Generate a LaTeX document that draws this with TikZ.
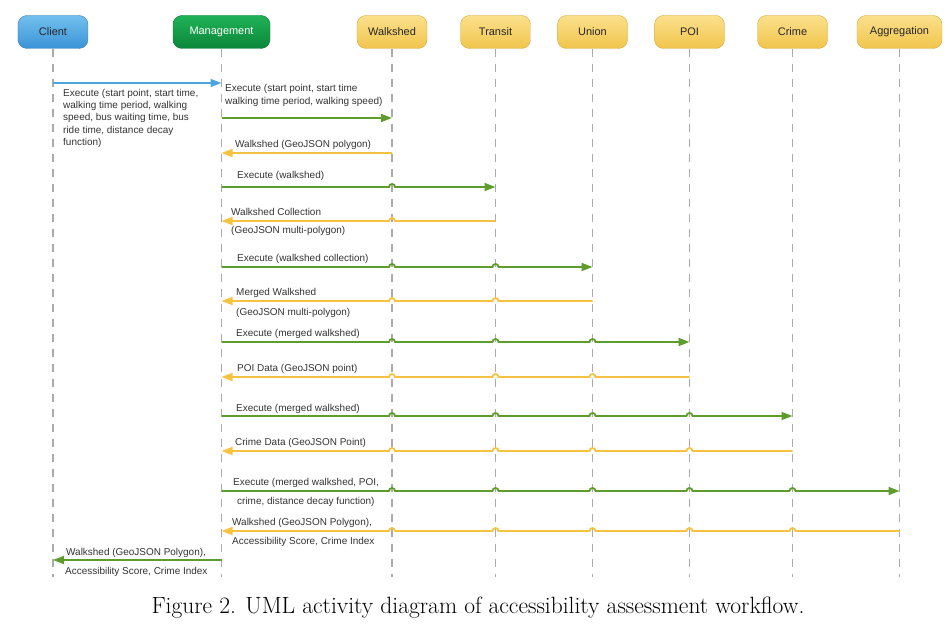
\documentclass[tikz,border=0pt]{standalone}
\usepackage{fontspec}
\newfontfamily\arial{Liberation Sans}
\usetikzlibrary{arrows.meta}
\definecolor{cltop}{HTML}{72C0EE}
\definecolor{clbot}{HTML}{3A93D6}
\definecolor{clline}{HTML}{3B7FB8}
\definecolor{mgtop}{HTML}{20B257}
\definecolor{mgbot}{HTML}{0B863A}
\definecolor{mgline}{HTML}{0C7A35}
\definecolor{svtop}{HTML}{FBE08C}
\definecolor{svbot}{HTML}{F1C54C}
\definecolor{svline}{HTML}{D6A83C}
\definecolor{callgreen}{HTML}{5E9C2C}
\definecolor{backgold}{HTML}{F6C242}
\definecolor{reqblue}{HTML}{4BA6E0}

\begin{document}
\begin{tikzpicture}[x=1bp, y=-1bp, font=\arial\fontsize{10}{12.3}\selectfont,
  >={Triangle[length=11bp,width=8bp]},
  head/.style={draw, rounded corners=9bp, minimum height=33bp, minimum width=70bp,
               inner sep=2pt, font=\arial\fontsize{11}{13}\selectfont, text=black!85},
  clientbox/.style={head, top color=cltop, bottom color=clbot, draw=clline},
  mgrbox/.style={head, top color=mgtop, bottom color=mgbot, draw=mgline,
                 text=white, minimum width=97bp},
  svcbox/.style={head, top color=svtop, bottom color=svbot, draw=svline},
  life/.style={draw=black!33, line width=1.2bp, dash pattern=on 8bp off 7bp},
  req/.style={->, draw=reqblue, line width=1.8bp},
  call/.style={->, draw=callgreen, line width=1.8bp},
  back/.style={<-, draw=backgold, line width=1.8bp},
  lbl/.style={inner sep=0pt, anchor=west, text=black!80},
  blk/.style={lbl, anchor=north west, align=left}]
\useasboundingbox (0,0) rectangle (952,634);
% Lifeline heads.
\node[clientbox] (client) at (53,32) {Client};
\node[mgrbox] (mgmt) at (221.5,32) {Management};
\node[svcbox] (walk) at (392,32) {Walkshed};
\node[svcbox] (transit) at (495.5,32) {Transit};
\node[svcbox] (union) at (592.5,32) {Union};
\node[svcbox] (poi) at (689.5,32) {POI};
\node[svcbox] (crime) at (792.5,32) {Crime};
\node[svcbox, minimum width=85bp] (agg) at (899.5,32) {Aggregation};
\foreach \n in {client,mgmt,walk,transit,union,poi,crime,agg}
  \draw[life] (\n.south) -- (\n.south |- 0,577);
% Messages, with hops over the lifelines they cross.
\draw[req] (client |- 0,83) -- (mgmt |- 0,83);
\draw[call] (mgmt |- 0,118) -- (walk |- 0,118);
\draw[back] (mgmt |- 0,153) -- (walk |- 0,153);
\draw[call] (mgmt |- 0,187) \foreach \n in {walk}
  {-- ([xshift=-3bp]\n |- 0,187) arc[start angle=180, end angle=0, radius=3bp]} -- (transit |- 0,187);
\draw[back] (mgmt |- 0,221) \foreach \n in {walk}
  {-- ([xshift=-3bp]\n |- 0,221) arc[start angle=180, end angle=0, radius=3bp]} -- (transit |- 0,221);
\draw[call] (mgmt |- 0,267) \foreach \n in {walk,transit}
  {-- ([xshift=-3bp]\n |- 0,267) arc[start angle=180, end angle=0, radius=3bp]} -- (union |- 0,267);
\draw[back] (mgmt |- 0,301) \foreach \n in {walk,transit}
  {-- ([xshift=-3bp]\n |- 0,301) arc[start angle=180, end angle=0, radius=3bp]} -- (union |- 0,301);
\draw[call] (mgmt |- 0,342) \foreach \n in {walk,transit,union}
  {-- ([xshift=-3bp]\n |- 0,342) arc[start angle=180, end angle=0, radius=3bp]} -- (poi |- 0,342);
\draw[back] (mgmt |- 0,377) \foreach \n in {walk,transit,union}
  {-- ([xshift=-3bp]\n |- 0,377) arc[start angle=180, end angle=0, radius=3bp]} -- (poi |- 0,377);
\draw[call] (mgmt |- 0,416) \foreach \n in {walk,transit,union,poi}
  {-- ([xshift=-3bp]\n |- 0,416) arc[start angle=180, end angle=0, radius=3bp]} -- (crime |- 0,416);
\draw[back] (mgmt |- 0,451) \foreach \n in {walk,transit,union,poi}
  {-- ([xshift=-3bp]\n |- 0,451) arc[start angle=180, end angle=0, radius=3bp]} -- (crime |- 0,451);
\draw[call] (mgmt |- 0,491) \foreach \n in {walk,transit,union,poi,crime}
  {-- ([xshift=-3bp]\n |- 0,491) arc[start angle=180, end angle=0, radius=3bp]} -- (agg |- 0,491);
\draw[back] (mgmt |- 0,531) \foreach \n in {walk,transit,union,poi,crime}
  {-- ([xshift=-3bp]\n |- 0,531) arc[start angle=180, end angle=0, radius=3bp]} -- (agg |- 0,531);
\draw[call] (mgmt |- 0,560) -- (client |- 0,560);
% Message texts.
\node[blk] (m1) at (63,89) {Execute (start point, start time,\\walking time period, walking\\speed, bus waiting time, bus\\ride time, distance decay\\function)};
\node[blk, font=\arial\fontsize{10}{13}\selectfont] (m2) at (225,84) {Execute (start point, start time\\walking time period, walking speed)};
\node[lbl] (m3) at (235,145) {Walkshed (GeoJSON polygon)};
\node[lbl] (m4) at (237,176) {Execute (walkshed)};
\node[lbl] (m5a) at (231,212) {Walkshed Collection};
\node[lbl] (m5b) at (231,231) {(GeoJSON multi-polygon)};
\node[lbl] (m6) at (237,259) {Execute (walkshed collection)};
\node[lbl] (m7a) at (236,293) {Merged Walkshed};
\node[lbl] (m7b) at (236,313) {(GeoJSON multi-polygon)};
\node[lbl] (m8) at (236,334) {Execute (merged walkshed)};
\node[lbl] (m9) at (237,369) {POI Data (GeoJSON point)};
\node[lbl] (m10) at (236,409) {Execute (merged walkshed)};
\node[lbl] (m11) at (235,443) {Crime Data (GeoJSON Point)};
\node[lbl] (m12a) at (233,483) {Execute (merged walkshed, POI,};
\node[lbl] (m12b) at (237,502) {crime, distance decay function)};
\node[lbl] (m13a) at (232,523) {Walkshed (GeoJSON Polygon),};
\node[lbl] (m13b) at (232,542) {Accessibility Score, Crime Index};
\node[lbl] (m14a) at (66,553) {Walkshed (GeoJSON Polygon),};
\node[lbl] (m14b) at (65,572) {Accessibility Score, Crime Index};
% Caption.
\node[font=\fontsize{23.6}{25}\selectfont] (caption) at (478,608)
  {Figure 2. UML activity diagram of accessibility assessment workflow.};
\end{tikzpicture}
\end{document}
